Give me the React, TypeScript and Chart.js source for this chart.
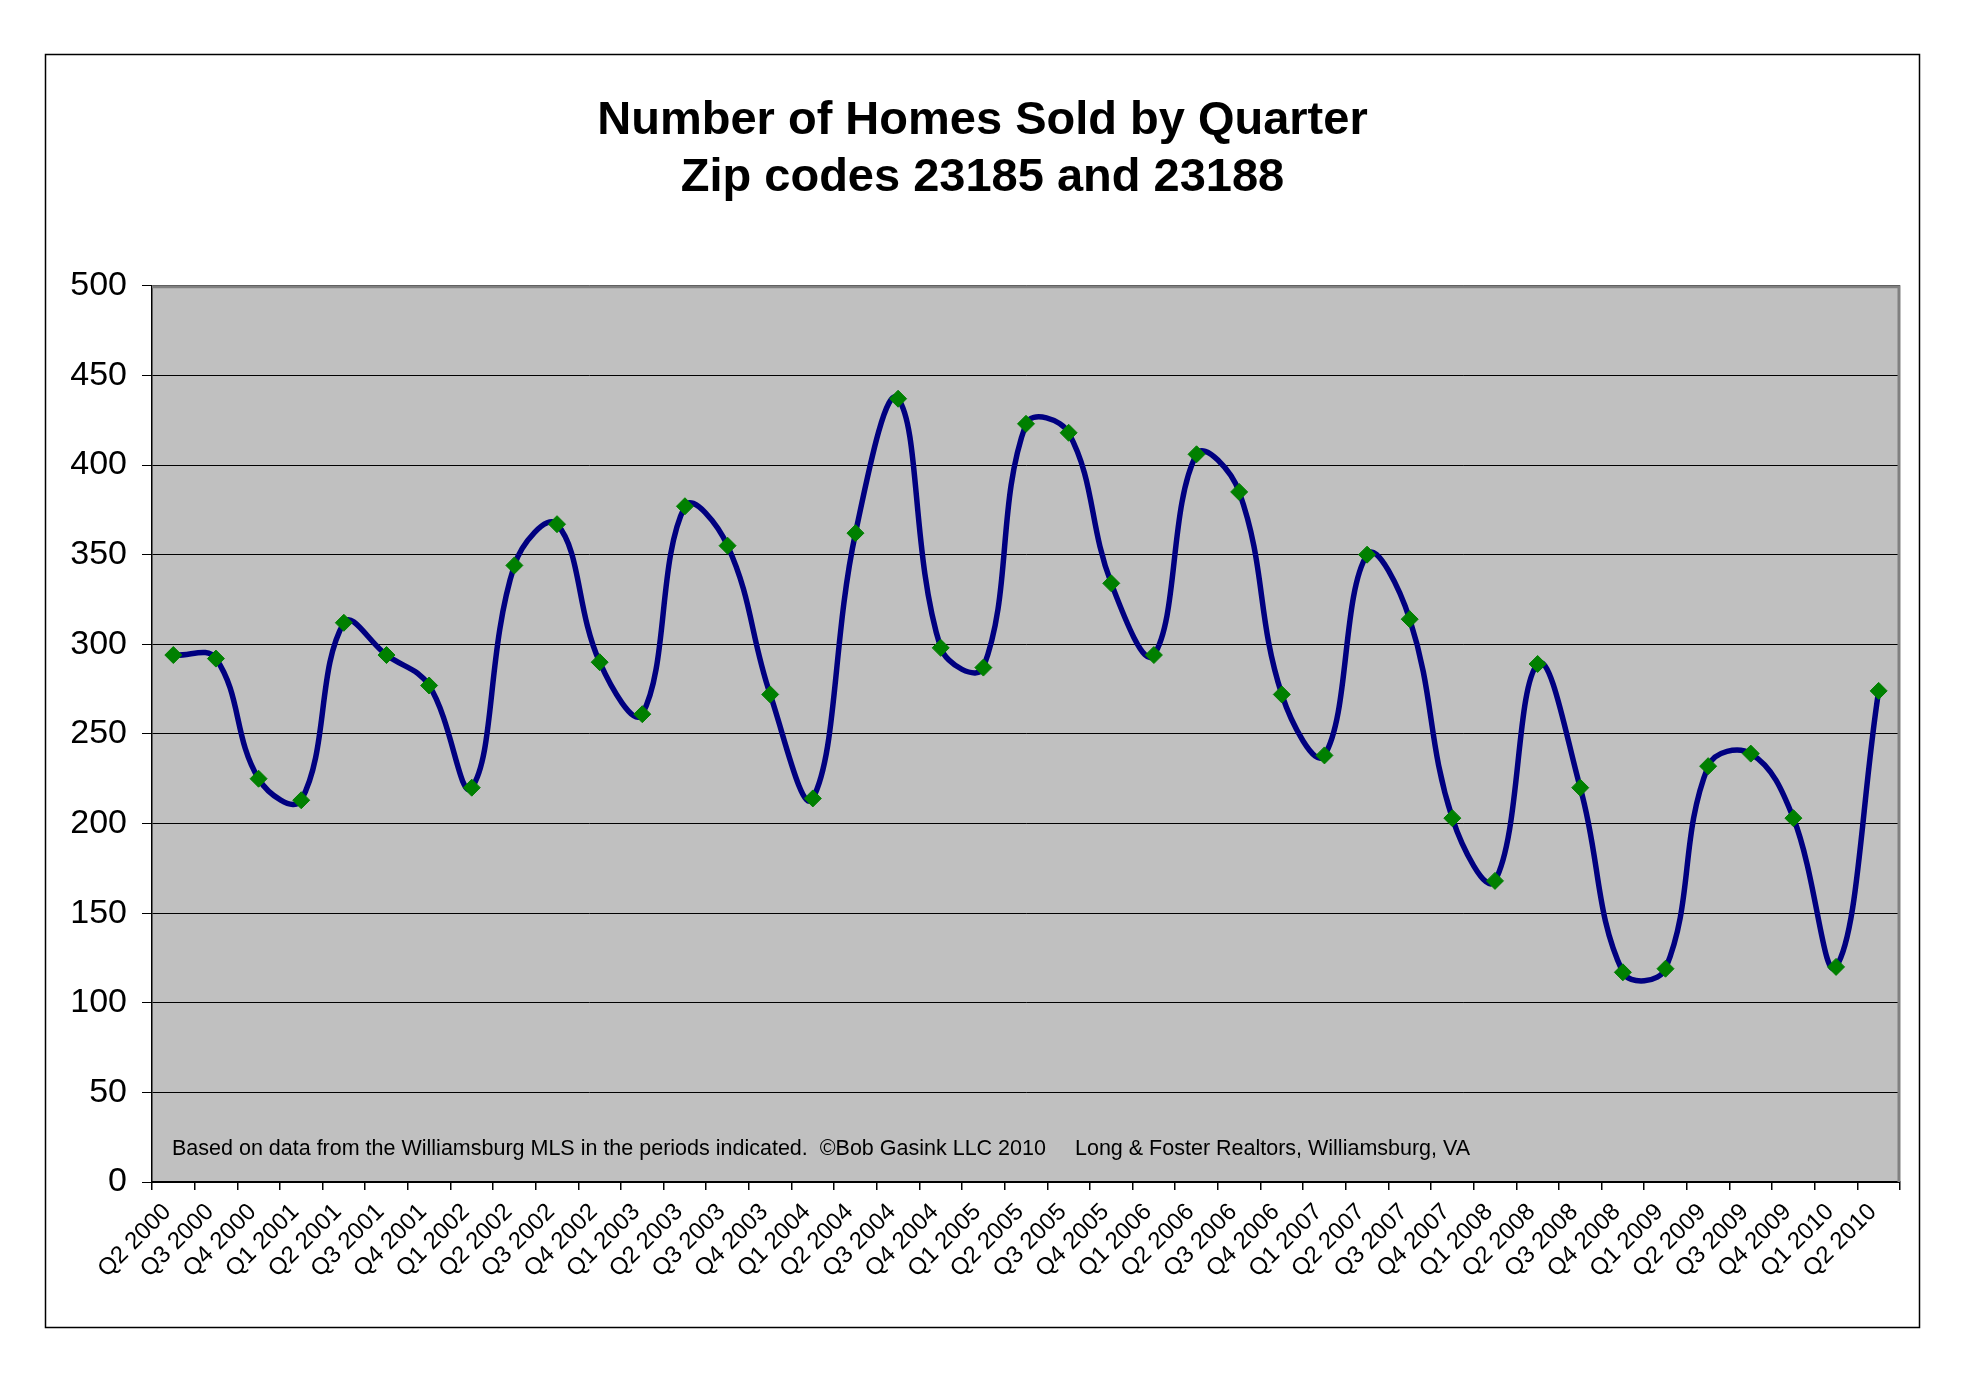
import React, { useEffect, useRef } from 'react';
import { Chart, registerables } from 'chart.js';

Chart.register(...registerables);

const quarters = [
  'Q2 2000', 'Q3 2000', 'Q4 2000',
  'Q1 2001', 'Q2 2001', 'Q3 2001', 'Q4 2001',
  'Q1 2002', 'Q2 2002', 'Q3 2002', 'Q4 2002',
  'Q1 2003', 'Q2 2003', 'Q3 2003', 'Q4 2003',
  'Q1 2004', 'Q2 2004', 'Q3 2004', 'Q4 2004',
  'Q1 2005', 'Q2 2005', 'Q3 2005', 'Q4 2005',
  'Q1 2006', 'Q2 2006', 'Q3 2006', 'Q4 2006',
  'Q1 2007', 'Q2 2007', 'Q3 2007', 'Q4 2007',
  'Q1 2008', 'Q2 2008', 'Q3 2008', 'Q4 2008',
  'Q1 2009', 'Q2 2009', 'Q3 2009', 'Q4 2009',
  'Q1 2010', 'Q2 2010',
];

const homesSold = [
  294, 292, 225,
  213, 312, 294, 277,
  220, 344, 367, 290,
  261, 377, 355, 272,
  214, 362, 437, 298,
  287, 423, 418, 334,
  294, 406, 385, 272,
  238, 350, 314, 203,
  168, 289, 220, 117,
  119, 232, 239, 203,
  120, 274,
];

const yMin = 0;
const yMax = 500;
const yStep = 50;

const titleLines = ['Number of Homes Sold by Quarter', 'Zip codes 23185 and 23188'];
const footnoteLeft = 'Based on data from the Williamsburg MLS in the periods indicated.  \u00A9Bob Gasink LLC 2010';
const footnoteRight = 'Long & Foster Realtors, Williamsburg, VA';

const FONT = "'Liberation Sans', Arial, Helvetica, sans-serif";

const decorPlugin = {
  id: 'decor',
  beforeDraw(chart: any) {
    const { ctx, chartArea: a, width, height } = chart;
    ctx.save();
    ctx.fillStyle = '#ffffff';
    ctx.fillRect(0, 0, width, height);
    ctx.strokeStyle = '#000000';
    ctx.lineWidth = 1.5;
    ctx.strokeRect(45.5, 54.5, 1874, 1273);
    ctx.fillStyle = '#c0c0c0';
    ctx.fillRect(a.left, a.top, a.right - a.left, a.bottom - a.top);
    ctx.restore();
  },
  beforeDatasetsDraw(chart: any) {
    const { ctx, chartArea: a } = chart;
    ctx.save();
    // gray plot-area border on top and right
    ctx.strokeStyle = '#808080';
    ctx.lineWidth = 3;
    ctx.beginPath();
    ctx.moveTo(a.left, a.top + 1);
    ctx.lineTo(a.right - 1, a.top + 1);
    ctx.lineTo(a.right - 1, a.bottom);
    ctx.stroke();
    // footnote
    ctx.fillStyle = '#000000';
    ctx.font = `21.5px ${FONT}`;
    ctx.textBaseline = 'alphabetic';
    ctx.textAlign = 'left';
    ctx.fillText(footnoteLeft, a.left + 20, a.bottom - 27);
    ctx.fillText(footnoteRight, a.left + 923, a.bottom - 27);
    ctx.restore();
  },
};

function HomesChart() {
  const canvasRef = useRef<HTMLCanvasElement | null>(null);

  useEffect(() => {
    if (!canvasRef.current) return;
    const chart = new Chart(canvasRef.current, {
      type: 'line',
      data: {
        labels: quarters,
        datasets: [
          {
            label: 'Homes sold',
            data: homesSold,
            borderColor: '#000080',
            borderWidth: 5.5,
            tension: 0.4,
            fill: false,
            pointStyle: 'rectRot',
            pointRadius: 8.5,
            pointBackgroundColor: '#008000',
            pointBorderColor: '#008000',
            pointBorderWidth: 1,
          },
        ],
      },
      options: {
        animation: false,
        responsive: false,
        devicePixelRatio: 1,
        layout: { padding: { top: 0, left: 65, right: 65, bottom: 0 } },
        plugins: {
          legend: { display: false },
          tooltip: { enabled: false },
          title: {
            display: true,
            text: titleLines,
            color: '#000000',
            font: { family: FONT, size: 47, weight: 'bold', lineHeight: 1.2 },
            padding: { top: 93, bottom: 80 },
          },
        },
        scales: {
          x: {
            type: 'category',
            offset: true,
            afterFit: (scale: any) => {
              scale.height = 205;
            },
            grid: {
              display: true,
              offset: true,
              drawOnChartArea: false,
              drawTicks: true,
              tickLength: 8,
              color: '#000000',
              lineWidth: 1.5,
            },
            border: { display: true, color: '#000000', width: 2 },
            ticks: {
              autoSkip: false,
              maxRotation: 45,
              minRotation: 45,
              color: '#000000',
              padding: 8,
              labelOffset: -6,
              font: { family: FONT, size: 24 },
            },
          },
          y: {
            min: yMin,
            max: yMax,
            afterFit: (scale: any) => {
              scale.width = 87;
            },
            grid: {
              display: true,
              color: '#000000',
              lineWidth: 1,
              drawTicks: true,
              tickLength: 10,
            },
            border: { display: true, color: '#000000', width: 1.5 },
            ticks: {
              stepSize: yStep,
              color: '#000000',
              padding: 15,
              font: { family: FONT, size: 34 },
            },
          },
        },
      },
      plugins: [decorPlugin],
    } as any);
    return () => chart.destroy();
  }, []);

  return <canvas ref={canvasRef} width={1965} height={1387} style={{ display: 'block' }} />;
}

export default function App() {
  return (
    <div style={{ position: 'fixed', left: 0, top: 0, width: 1965, height: 1387, background: '#fff' }}>
      <HomesChart />
    </div>
  );
}
